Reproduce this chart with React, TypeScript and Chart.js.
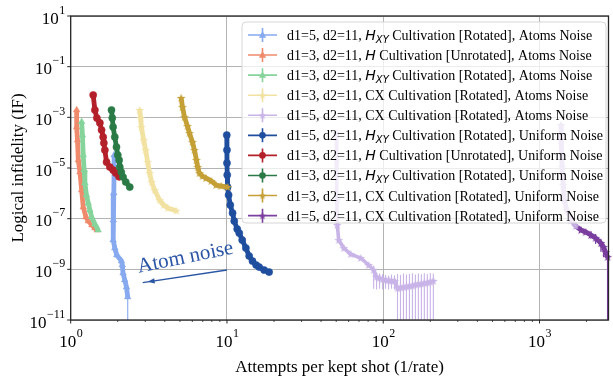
import React, { useEffect, useRef } from 'react';
import { Chart, registerables } from 'chart.js';

Chart.register(...registerables);

const W = 613;
const H = 381;

// ---------------- data ----------------
const s1X = [1.896, 1.896, 1.887, 1.874, 1.868, 1.915, 1.972, 2.113, 2.138, 2.163, 2.218, 2.274, 2.317];
const s1Y = [3.25e-5, 8.3e-6, 1.03e-6, 8.8e-8, 1.43e-8, 6.9e-9, 3.67e-9, 2.13e-9, 1.48e-9, 7.1e-10, 3.8e-10, 2.0e-10, 8.1e-11];
const s1Lo = [null, null, null, null, null, null, null, null, null, null, null, null, 1e-13];
const s1Hi = [null, null, null, null, null, null, null, null, null, null, null, null, 1.5e-10];

const s2X = [1.092, 1.092, 1.105, 1.118, 1.146, 1.175, 1.203, 1.252, 1.295, 1.367, 1.428, 1.477];
const s2Y = [1.95e-3, 4.15e-4, 1.27e-4, 2.07e-5, 6.9e-6, 1.35e-6, 2.88e-7, 1.16e-7, 8.07e-8, 5.6e-8, 4.27e-8, 3.56e-8];

const s3X = [1.175, 1.189, 1.203, 1.219, 1.233, 1.261, 1.295, 1.327, 1.361, 1.428, 1.499];
const s3Y = [6.7e-4, 2.0e-4, 3.25e-5, 8.3e-6, 2.55e-6, 8.6e-7, 4.1e-7, 2.2e-7, 1.16e-7, 6.1e-8, 3.56e-8];

const s4X = [2.763, 2.804, 2.833, 2.93, 3.017, 3.108, 3.2, 3.296, 3.443, 3.707, 3.929, 4.185, 4.733];
const s4Y = [1.95e-3, 9.4e-4, 4.15e-4, 1.27e-4, 5.1e-5, 1.72e-5, 6.3e-6, 2.8e-6, 1.35e-6, 5.4e-7, 3.45e-7, 2.63e-7, 2.06e-7];

const s5X = [50.05, 50.4, 50.4, 50.8, 51.9, 55.9, 61.9, 71.7, 80.6, 86.8, 90.6, 94.7, 99.0, 103.4, 108.1, 112.9, 118.0,
  123.4, 128.9, 134.7, 140.7, 147.1, 153.7, 160.6, 167.8, 175.4, 183.2, 191.5, 200.1, 209.2];
const s5Y = [2.4e-4, 2.07e-5, 5.4e-7, 5.6e-8, 1.43e-8, 6.9e-9, 4.0e-9, 2.8e-9, 1.48e-9, 9.4e-10, 5.0e-10, 4.5e-10, 4.1e-10, 3.8e-10, 3.7e-10, 3.5e-10, 3.5e-10,
  1.8e-10, 1.9e-10, 2.0e-10, 2.1e-10, 2.2e-10, 2.3e-10, 2.5e-10, 2.6e-10, 2.7e-10, 2.9e-10, 3.0e-10, 3.2e-10, 3.5e-10];
const s5Lo = [null, null, null, null, null, null, null, null, null, 1.7e-10, 1.6e-10, 1.7e-10, 1.6e-10, 1.7e-10, 1.6e-10, 1.7e-10, 1.6e-10,
  1e-13, 1e-13, 1e-13, 1e-13, 1e-13, 1e-13, 1e-13, 1e-13, 1e-13, 1e-13, 1e-13, 1e-13, 1e-13];
const s5Hi = [null, null, null, null, null, null, null, null, null, 1.4e-9, 7.5e-10, 6.8e-10, 6.4e-10, 6.0e-10, 5.6e-10, 6.2e-10, 5.8e-10,
  6.5e-10, 6.0e-10, 6.8e-10, 6.2e-10, 6.6e-10, 7.0e-10, 6.3e-10, 6.9e-10, 6.4e-10, 7.0e-10, 6.6e-10, 7.1e-10, 6.8e-10];

const s6X = [9.97, 10.0, 10.0, 10.04, 10.09, 10.24, 10.5, 10.86, 11.13, 11.63, 11.98, 12.52, 13.21, 13.87, 14.56, 15.37, 16.06, 17.29, 18.6];
const s6Y = [2.0e-4, 5.1e-5, 1.57e-5, 5.3e-6, 1.77e-6, 8.6e-7, 3.45e-7, 1.67e-7, 8.07e-8, 3.9e-8, 2.7e-8, 1.43e-8, 6.9e-9, 3.35e-9, 2.13e-9, 1.48e-9, 1.23e-9, 9.4e-10, 7.8e-10];

const s7X = [1.393, 1.428, 1.471, 1.537, 1.576, 1.613, 1.63, 1.654, 1.696, 1.78, 1.868, 1.943, 2.04];
const s7Y = [7.6e-3, 1.95e-3, 9.4e-4, 6.0e-4, 3.16e-4, 1.67e-4, 9.7e-5, 5.1e-5, 1.72e-5, 1.09e-5, 8.3e-6, 6.3e-6, 4.5e-6];

const s8X = [1.824, 1.846, 1.868, 1.915, 1.963, 2.001, 2.04, 2.061, 2.107, 2.163, 2.25, 2.387];
const s8Y = [1.95e-3, 9.4e-4, 4.15e-4, 1.67e-4, 6.7e-5, 3.25e-5, 2.07e-5, 1.09e-5, 6.9e-6, 4.4e-6, 2.8e-6, 1.77e-6];

const s9X = [5.093, 5.192, 5.346, 5.586, 5.753, 6.012, 6.191, 6.376, 6.498, 6.662, 6.961, 7.347, 7.943, 8.511, 9.199, 10.09];
const s9Y = [5.8e-3, 2.55e-3, 1.03e-3, 4.5e-4, 2.4e-4, 1.06e-4, 5.1e-5, 2.07e-5, 1.09e-5, 6.3e-6, 4.8e-6, 4.0e-6, 3.06e-6, 2.13e-6, 1.95e-6, 1.77e-6];

const s10X = [1373, 1377, 1393, 1418, 1443, 1492, 1590, 1703, 1841, 1972, 2132, 2284, 2469, 2568, 2644, 2723];
const s10Y = [5.0e-4, 1.27e-4, 1.12e-5, 2.13e-6, 5.4e-7, 2.2e-7, 8.8e-8, 5.1e-8, 3.56e-8, 2.97e-8, 2.26e-8, 1.72e-8, 1.09e-8, 7.6e-9, 4.8e-9, 3.06e-9];
const s10Lo = [null, null, null, null, null, null, null, null, null, null, 1.6e-8, 1.0e-8, 5.0e-9, 3.0e-9, null, 1e-13];
const s10Hi = [null, null, null, null, null, null, null, null, null, null, 3.2e-8, 2.5e-8, 1.6e-8, 1.1e-8, null, 4.5e-9];

const seriesX = [s1X, s2X, s3X, s4X, s5X, s6X, s7X, s8X, s9X, s10X];
const seriesY = [s1Y, s2Y, s3Y, s4Y, s5Y, s6Y, s7Y, s8Y, s9Y, s10Y];
const seriesLo = [s1Lo, null, null, null, s5Lo, null, null, null, null, s10Lo];
const seriesHi = [s1Hi, null, null, null, s5Hi, null, null, null, null, s10Hi];

// legend text: [prefix, math symbol, suffix]
const labelPrefix = ['d1=5, d2=11, ', 'd1=3, d2=11, ', 'd1=3, d2=11, ', 'd1=3, d2=11, ', 'd1=5, d2=11, ',
  'd1=5, d2=11, ', 'd1=3, d2=11, ', 'd1=3, d2=11, ', 'd1=3, d2=11, ', 'd1=5, d2=11, '];
const labelMath = ['HXY', 'H', 'HXY', '', '', 'HXY', 'H', 'HXY', '', ''];
const labelSuffix = [
  ' Cultivation [Rotated], Atoms Noise',
  ' Cultivation [Unrotated], Atoms Noise',
  ' Cultivation [Rotated], Atoms Noise',
  'CX Cultivation [Rotated], Atoms Noise',
  'CX Cultivation [Rotated], Atoms Noise',
  ' Cultivation [Rotated], Uniform Noise',
  ' Cultivation [Unrotated], Uniform Noise',
  ' Cultivation [Rotated], Uniform Noise',
  'CX Cultivation [Rotated], Uniform Noise',
  'CX Cultivation [Rotated], Uniform Noise',
];

const colors = ['#86a9ef', '#ef8a6c', '#86d49c', '#f2e2a2', '#c9b4e8', '#1f4e9e', '#b3202a', '#2a7a46', '#c4a036', '#7b3fa0'];
const markers = ['triangle', 'triangle', 'triangle', 'star', 'star', 'circle', 'circle', 'circle', 'star', 'star'];
const purpleLightColor = '#c6aee2';
const purpleLightCount = 8;

const xTickValues = [1, 10, 100, 1000];
const yTickExps = [1, -1, -3, -5, -7, -9, -11];
const xMin = 1;
const xMax = 2763;
const yMin = 1e-11;
const yMax = 10;

const xTitle = 'Attempts per kept shot (1/rate)';
const yTitle = 'Logical infidelity (IF)';
const noteText = 'Atom noise';
const noteAt = { x: 5.51, y: 1.77e-9 };
const arrowFrom = { x: 10, y: 9.4e-10 };
const arrowTo = { x: 3.108, y: 3.2e-10 };
const noteColor = '#2a55a5';

const SERIF = '"Liberation Serif", "Times New Roman", serif';
const SANS = '"DejaVu Sans", sans-serif';

function makeStar(color: string, r: number) {
  const c = document.createElement('canvas');
  const s = Math.ceil(r * 2 + 2);
  c.width = s;
  c.height = s;
  const ctx = c.getContext('2d')!;
  ctx.fillStyle = color;
  ctx.beginPath();
  for (let i = 0; i < 10; i++) {
    const a = -Math.PI / 2 + (i * Math.PI) / 5;
    const rr = i % 2 === 0 ? r : r * 0.42;
    const px = s / 2 + rr * Math.cos(a);
    const py = s / 2 + rr * Math.sin(a) + 0.4;
    if (i === 0) ctx.moveTo(px, py);
    else ctx.lineTo(px, py);
  }
  ctx.closePath();
  ctx.fill();
  return c;
}

function drawMarker(ctx: CanvasRenderingContext2D, kind: string, color: string, x: number, y: number, r: number, starImg: any) {
  ctx.save();
  ctx.fillStyle = color;
  if (kind === 'circle') {
    ctx.beginPath();
    ctx.arc(x, y, r, 0, Math.PI * 2);
    ctx.fill();
  } else if (kind === 'triangle') {
    ctx.beginPath();
    ctx.moveTo(x, y - r * 1.1);
    ctx.lineTo(x + r, y + r * 0.75);
    ctx.lineTo(x - r, y + r * 0.75);
    ctx.closePath();
    ctx.fill();
  } else {
    ctx.drawImage(starImg, x - starImg.width / 2, y - starImg.height / 2);
  }
  ctx.restore();
}

export default function App() {
  const ref = useRef<HTMLCanvasElement | null>(null);

  useEffect(() => {
    const canvas = ref.current;
    if (!canvas) return;

    const stars = colors.map((c) => makeStar(c, 4.6));
    const lightStar = makeStar(purpleLightColor, 4.6);
    const legendStars = colors.map((c) => makeStar(c, 4));

    const datasets = seriesX.map((xs, i) => {
      const pts = xs.map((x, j) => ({ x, y: seriesY[i][j] }));
      const isPurple = i === 9;
      let pointStyle: any = markers[i] === 'star' ? stars[i] : markers[i];
      let pointColor: any = colors[i];
      if (isPurple) {
        pointStyle = xs.map((_, j) => (j < purpleLightCount ? lightStar : stars[i]));
        pointColor = xs.map((_, j) => (j < purpleLightCount ? purpleLightColor : colors[i]));
      }
      const ds: any = {
        label: labelPrefix[i] + labelMath[i] + labelSuffix[i],
        data: pts,
        showLine: true,
        borderColor: colors[i],
        backgroundColor: pointColor,
        pointBackgroundColor: pointColor,
        pointBorderColor: pointColor,
        pointBorderWidth: 0.5,
        borderWidth: i === 4 ? 3.6 : 4.8,
        pointStyle,
        pointRadius: markers[i] === 'circle' ? 3.6 : 3.8,
        tension: 0,
        order: 10 - i,
        clip: false,
      };
      if (isPurple) {
        ds.segment = {
          borderColor: (c: any) => (c.p1DataIndex < purpleLightCount ? purpleLightColor : colors[i]),
        };
      }
      return ds;
    });

    const plugin = {
      id: 'custom',
      beforeDatasetDraw(chart: any, args: any) {
        const i = args.index;
        const lo = seriesLo[i];
        const hi = seriesHi[i];
        if (!lo || !hi) return;
        const { ctx, chartArea: ca } = chart;
        const xs = chart.scales.x;
        const ys = chart.scales.y;
        ctx.save();
        ctx.beginPath();
        ctx.rect(ca.left, ca.top, ca.right - ca.left, ca.bottom - ca.top);
        ctx.clip();
        ctx.lineWidth = 1.1;
        for (let j = 0; j < seriesX[i].length; j++) {
          if (lo[j] == null || hi[j] == null) continue;
          const px = xs.getPixelForValue(seriesX[i][j]);
          const y1 = Math.min(ys.getPixelForValue(lo[j]), ca.bottom + 5);
          const y2 = ys.getPixelForValue(hi[j]);
          ctx.strokeStyle = i === 9 && j < purpleLightCount ? purpleLightColor : colors[i];
          ctx.beginPath();
          ctx.moveTo(px, y1);
          ctx.lineTo(px, y2);
          ctx.stroke();
        }
        ctx.restore();
      },
      afterDatasetsDraw(chart: any) {
        const { ctx } = chart;
        const xs = chart.scales.x;
        const ys = chart.scales.y;
        // annotation
        ctx.save();
        ctx.fillStyle = noteColor;
        ctx.strokeStyle = noteColor;
        ctx.font = `21px ${SERIF}`;
        ctx.translate(xs.getPixelForValue(noteAt.x), ys.getPixelForValue(noteAt.y));
        ctx.rotate((-11.5 * Math.PI) / 180);
        ctx.textAlign = 'center';
        ctx.textBaseline = 'alphabetic';
        ctx.fillText(noteText, 0, 0);
        ctx.restore();

        const ax1 = xs.getPixelForValue(arrowFrom.x);
        const ay1 = ys.getPixelForValue(arrowFrom.y);
        const ax2 = xs.getPixelForValue(arrowTo.x);
        const ay2 = ys.getPixelForValue(arrowTo.y);
        const ang = Math.atan2(ay2 - ay1, ax2 - ax1);
        ctx.save();
        ctx.strokeStyle = noteColor;
        ctx.fillStyle = noteColor;
        ctx.lineWidth = 1.3;
        ctx.beginPath();
        ctx.moveTo(ax1, ay1);
        ctx.lineTo(ax2 + 5 * Math.cos(ang), ay2 + 5 * Math.sin(ang));
        ctx.stroke();
        ctx.beginPath();
        ctx.moveTo(ax2, ay2);
        ctx.lineTo(ax2 - 7 * Math.cos(ang) + 2.6 * Math.sin(ang), ay2 - 7 * Math.sin(ang) - 2.6 * Math.cos(ang));
        ctx.lineTo(ax2 - 7 * Math.cos(ang) - 2.6 * Math.sin(ang), ay2 - 7 * Math.sin(ang) + 2.6 * Math.cos(ang));
        ctx.closePath();
        ctx.fill();
        ctx.restore();
      },
      afterDraw(chart: any) {
        const { ctx, chartArea: ca } = chart;
        const xs = chart.scales.x;
        const ys = chart.scales.y;
        ctx.save();
        // spines
        ctx.strokeStyle = '#262626';
        ctx.lineWidth = 1.3;
        ctx.strokeRect(ca.left, ca.top, ca.right - ca.left, ca.bottom - ca.top);

        // ticks
        ctx.lineWidth = 1;
        ctx.beginPath();
        yTickExps.forEach((e) => {
          const y = ys.getPixelForValue(Math.pow(10, e));
          ctx.moveTo(ca.left - 3.5, y);
          ctx.lineTo(ca.left, y);
        });
        xTickValues.forEach((v) => {
          const x = xs.getPixelForValue(v);
          ctx.moveTo(x, ca.bottom);
          ctx.lineTo(x, ca.bottom + 3.5);
        });
        ctx.stroke();
        ctx.lineWidth = 0.8;
        ctx.beginPath();
        for (let d = 1; d <= 1000; d *= 10) {
          for (let k = 2; k <= 9; k++) {
            const v = d * k;
            if (v > xMax) continue;
            const x = xs.getPixelForValue(v);
            ctx.moveTo(x, ca.bottom);
            ctx.lineTo(x, ca.bottom + 2);
          }
        }
        ctx.stroke();

        // tick labels
        ctx.fillStyle = '#000';
        ctx.textBaseline = 'alphabetic';
        ctx.textAlign = 'left';
        const baseFont = `17px ${SERIF}`;
        const expFont = `12px ${SERIF}`;
        const expStr = (e: number) => (e < 0 ? '\u2212' + Math.abs(e) : String(e));
        yTickExps.forEach((e) => {
          const y = ys.getPixelForValue(Math.pow(10, e));
          ctx.font = baseFont;
          const wb = ctx.measureText('10').width;
          ctx.font = expFont;
          const we = ctx.measureText(expStr(e)).width;
          const x0 = ca.left - 6 - wb - we;
          ctx.font = baseFont;
          ctx.fillText('10', x0, y + 7.5);
          ctx.font = expFont;
          ctx.fillText(expStr(e), x0 + wb + 0.5, y - 2.5);
        });
        xTickValues.forEach((v) => {
          const x = xs.getPixelForValue(v);
          const e = Math.round(Math.log10(v));
          ctx.font = baseFont;
          const wb = ctx.measureText('10').width;
          ctx.font = expFont;
          const we = ctx.measureText(expStr(e)).width;
          const x0 = x - (wb + we) / 2;
          ctx.font = baseFont;
          ctx.fillText('10', x0, ca.bottom + 27);
          ctx.font = expFont;
          ctx.fillText(expStr(e), x0 + wb + 0.5, ca.bottom + 17);
        });

        // axis titles
        ctx.font = `17px ${SERIF}`;
        ctx.textAlign = 'center';
        ctx.fillText(xTitle, (ca.left + ca.right) / 2, ca.bottom + 52);
        ctx.save();
        ctx.translate(23, (ca.top + ca.bottom) / 2);
        ctx.rotate(-Math.PI / 2);
        ctx.fillText(yTitle, 0, 0);
        ctx.restore();

        // legend
        const lx = 242, ly = 22, lw = 364, lh = 201;
        ctx.beginPath();
        const r = 4;
        ctx.moveTo(lx + r, ly);
        ctx.lineTo(lx + lw - r, ly);
        ctx.quadraticCurveTo(lx + lw, ly, lx + lw, ly + r);
        ctx.lineTo(lx + lw, ly + lh - r);
        ctx.quadraticCurveTo(lx + lw, ly + lh, lx + lw - r, ly + lh);
        ctx.lineTo(lx + r, ly + lh);
        ctx.quadraticCurveTo(lx, ly + lh, lx, ly + lh - r);
        ctx.lineTo(lx, ly + r);
        ctx.quadraticCurveTo(lx, ly, lx + r, ly);
        ctx.closePath();
        ctx.fillStyle = 'rgba(255,255,255,0.75)';
        ctx.fill();
        ctx.strokeStyle = '#d6d6d6';
        ctx.lineWidth = 1;
        ctx.stroke();

        for (let i = 0; i < 10; i++) {
          const ry = 35 + i * 20.07;
          const c = colors[i];
          ctx.strokeStyle = c;
          ctx.lineWidth = 1.6;
          ctx.beginPath();
          ctx.moveTo(248, ry);
          ctx.lineTo(277, ry);
          ctx.moveTo(262.5, ry - 7);
          ctx.lineTo(262.5, ry + 7);
          ctx.stroke();
          drawMarker(ctx, markers[i], c, 262.5, ry, markers[i] === 'circle' ? 3.3 : 3.6, legendStars[i]);

          let tx = 287;
          const by = ry + 5;
          ctx.fillStyle = '#000';
          ctx.textAlign = 'left';
          ctx.font = `14px ${SERIF}`;
          ctx.fillText(labelPrefix[i], tx, by);
          tx += ctx.measureText(labelPrefix[i]).width;
          if (labelMath[i]) {
            ctx.font = `italic 14px ${SANS}`;
            ctx.fillText('H', tx, by);
            tx += ctx.measureText('H').width;
            if (labelMath[i] === 'HXY') {
              ctx.font = `italic 10px ${SANS}`;
              ctx.fillText('XY', tx, by + 2.5);
              tx += ctx.measureText('XY').width;
            }
          }
          ctx.font = `14px ${SERIF}`;
          ctx.fillText(labelSuffix[i], tx, by);
        }
        ctx.restore();
      },
    };

    const chart = new Chart(canvas, {
      type: 'scatter',
      data: { datasets },
      options: {
        responsive: false,
        animation: false,
        devicePixelRatio: 1,
        events: [],
        layout: { padding: { left: 70.7, right: 2, top: 16, bottom: 61 } },
        plugins: { legend: { display: false }, tooltip: { enabled: false } },
        scales: {
          x: {
            type: 'logarithmic',
            min: xMin,
            max: xMax,
            ticks: { display: false },
            grid: { color: '#b3b3b3', lineWidth: 1, drawTicks: false },
            border: { display: false },
            afterBuildTicks: (s: any) => {
              s.ticks = xTickValues.map((v) => ({ value: v }));
            },
          },
          y: {
            type: 'logarithmic',
            min: yMin,
            max: yMax,
            ticks: { display: false },
            grid: { color: '#b3b3b3', lineWidth: 1, drawTicks: false },
            border: { display: false },
            afterBuildTicks: (s: any) => {
              s.ticks = yTickExps.map((e) => ({ value: Math.pow(10, e) }));
            },
          },
        },
      } as any,
      plugins: [plugin],
    });

    return () => chart.destroy();
  }, []);

  return (
    <div style={{ position: 'absolute', left: 0, top: 0, width: W, height: H, background: '#fff' }}>
      <canvas ref={ref} width={W} height={H} style={{ width: W, height: H, display: 'block' }} />
    </div>
  );
}
